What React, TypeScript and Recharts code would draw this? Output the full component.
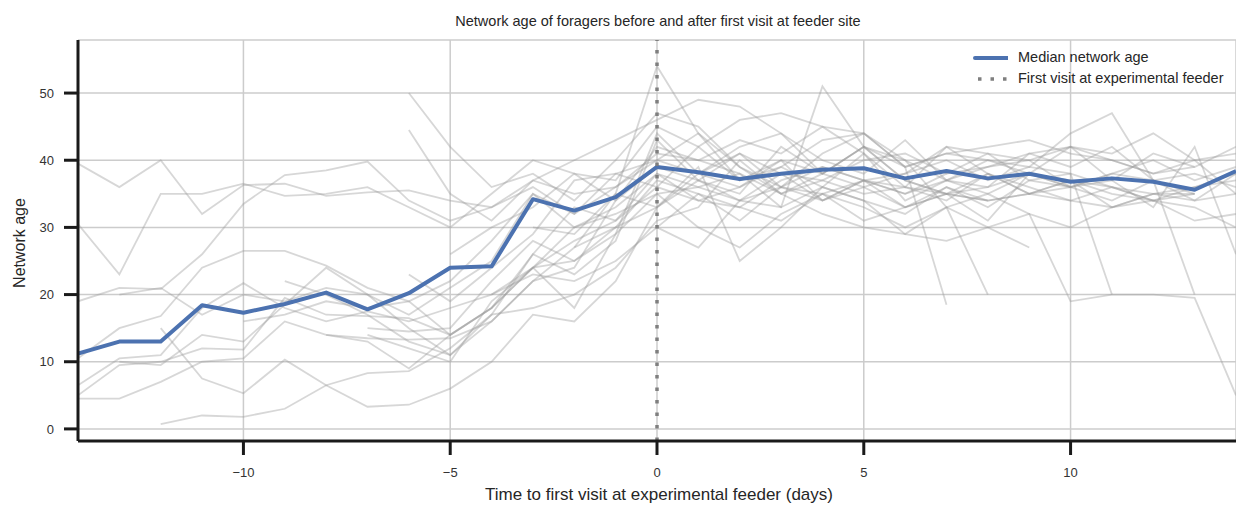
import { LineChart, Line, XAxis, YAxis, CartesianGrid, ReferenceLine } from "recharts";

const days = [-14, -13, -12, -11, -10, -9, -8, -7, -6, -5, -4, -3, -2, -1, 0, 1, 2, 3, 4, 5, 6, 7, 8, 9, 10, 11, 12, 13, 14];

const medianAge = [11.2, 13, 13, 18.4, 17.3, 18.6, 20.3, 17.8, 20.2, 24, 24.2, 34.2, 32.5, 34.5, 39, 38.2, 37.2, 38, 38.6, 38.8, 37.3, 38.4, 37.3, 38, 36.8, 37.3, 36.8, 35.6, 38.4];

// one entry per forager: first day seen + its network age per day
const foragerTracks = [
  { from: -14, ages: [39.5, 36, 40, 32, 36.3, 36.5, 34.7, 35.2, 35.5, 34, 33, 37, 35, 36, 41, 40, 38, 35, 38, 42, 40, 37, 39, 41, 42, 40, 38, 39] },
  { from: -14, ages: [30.5, 23, 35, 35, 36.5, 34.7, 35, 36, 33, 30, 35, 40, 38, 37, 45, 42, 37, 39, 43, 44, 39, 41, 40, 38, 37, 35, 34, 33, 30] },
  { from: -14, ages: [19, 21, 20.8, 26, 33.5, 37.8, 38.5, 39.8, 34, 31, 33, 36, 32, 38, 40, 38, 41, 36, 34, 37, 38, 42, 41, 40, 36, 37, 41, 39, 42] },
  { from: -14, ages: [10.5, 15, 16.8, 24, 26.5, 26.5, 24.3, 21, 19, 14, 18, 24, 28, 31, 36, 34, 33, 31, 35, 37, 33, 35, 38, 36, 34, 33, 35, 36, 37] },
  { from: -14, ages: [4.5, 4.5, 7, 10, 10.5, 16, 14, 13.5, 13.3, 13.5, 16, 22, 27, 30, 33, 37, 34, 36, 35, 31, 33, 36, 34, 35, 36, 38, 37, 34, 38] },
  { from: -14, ages: [5, 9.5, 10, 12, 11.8, 19.5, 17, 16.8, 16.5, 14, 18, 24, 25, 29, 35, 36, 38, 33, 36, 41, 34, 37, 35, 38, 42, 41, 44, 40, 35] },
  { from: -14, ages: [6.5, 10.5, 11, 18, 21.7, 18, 16, 17.5, 16, 18, 20, 23, 22, 25, 30, 35, 33, 37, 39, 37, 35, 37, 40, 39, 44, 47, 37, 35] },
  { from: -12, ages: [0.7, 2, 1.8, 3, 6.5, 8.3, 8.6, 12, 17, 18, 20, 24, 31, 33, 40, 35, 32, 30, 29, 28, 30, 27] },
  { from: -12, ages: [15, 7.5, 5.3, 10.3, 6.5, 3.3, 3.6, 6, 10, 17, 16, 22, 33, 38, 36, 40, 38, 42, 37, 35, 36, 38, 36] },
  { from: -13, ages: [10, 9.5, 14, 13, 18.5, 24, 20, 15, 11, 17, 26, 23, 28, 43, 37, 41, 38, 34, 36, 33, 35, 34] },
  { from: -7, ages: [15, 14.5, 15, 22, 28, 25, 30, 37, 35, 31, 36, 39, 37, 36, 34, 38, 35, 37, 36, 34, 35] },
  { from: -6, ages: [50, 42, 36, 38, 34, 40, 47, 45, 39, 36, 41, 44, 40, 33, 20] },
  { from: -6, ages: [44.5, 35, 31, 37, 40, 43, 46, 49, 48, 44, 38, 42, 39, 18.5] },
  { from: -7, ages: [14, 12, 10, 19, 24, 30, 32, 35, 30, 27, 32, 35, 33, 30, 33, 35, 32, 19, 20, 20, 19.5, 5] },
  { from: -8, ages: [14, 13, 9, 14, 18, 26, 33, 31, 38, 34, 36, 39, 36, 34, 32, 36, 33, 37, 38, 20] },
  { from: -9, ages: [22, 20, 17, 13, 11, 16, 22, 24, 34, 42, 40, 43, 41, 45, 44, 39, 41, 42, 43, 41, 40, 38, 40, 41] },
  { from: -10, ages: [16, 17, 19, 18, 19, 22, 28, 35, 32, 36, 40, 44, 39, 35, 37, 40, 41, 38, 39, 40, 42, 37, 33, 42, 26] },
  { from: -5, ages: [26, 30, 33, 38, 34, 39, 37, 35, 42, 38, 36, 38, 40, 37, 39, 38, 36, 34, 36, 38] },
  { from: -4, ages: [20, 24, 18, 29, 44, 38, 42, 44, 40, 38, 43, 37, 36, 41, 39, 42, 37, 20] },
  { from: -3, ages: [30, 29, 35, 54, 44, 37, 40, 34, 37, 35, 38, 41, 37, 36, 38, 40, 37, 39] },
  { from: -6, ages: [23, 19, 24, 29, 37, 38, 36, 42, 46, 47, 45, 41, 36, 42, 38, 35, 37, 33, 35, 35] },
  { from: -13, ages: [20, 21, 17, 20, 19, 21, 20, 17, 21, 25, 35, 30, 33, 38, 36, 34, 38, 37, 35, 36, 35, 34, 35, 34, 36, 35, 34, 35] },
  { from: 0, ages: [30, 27, 34, 33, 51, 42, 37, 35, 31, 38, 36, 34, 37, 38, 36] },
  { from: -2, ages: [27, 35, 33, 39, 25, 30, 36, 34, 29, 33, 30, 32, 30, 33, 34, 31, 32] },
];

const xTicks = [-10, -5, 0, 5, 10];
const yTicks = [0, 10, 20, 30, 40, 50];

const rows = days.map((day, i) => {
  const row: Record<string, number> = { day, median: medianAge[i] };
  foragerTracks.forEach((t, k) => {
    const j = day - t.from;
    if (j >= 0 && j < t.ages.length) row[`f${k}`] = t.ages[j];
  });
  return row;
});

const FONT = "'Liberation Sans', Arial, sans-serif";
const INK = "#262626";

export default function App() {
  return (
    <div style={{ position: "absolute", left: 0, top: 0, width: 1236, height: 506, background: "#fff", fontFamily: FONT }}>
      <div style={{ position: "absolute", top: 12, left: 0, width: 1316, textAlign: "center", fontSize: 14.5, lineHeight: "18px", color: INK }}>
        Network age of foragers before and after first visit at feeder site
      </div>
      <LineChart width={1236} height={506} data={rows} margin={{ top: 40, right: 0, bottom: 0, left: 0 }}>
        <CartesianGrid stroke="#cccccc" strokeWidth={1.5} />
        <XAxis
          dataKey="day"
          type="number"
          domain={[-14, 14]}
          ticks={xTicks}
          allowDataOverflow
          height={65}
          tickSize={14}
          tickMargin={13}
          tick={{ fill: "#333", fontSize: 13, fontFamily: FONT }}
          tickLine={{ stroke: "#1a1a1a", strokeWidth: 3 }}
          axisLine={{ stroke: "#1a1a1a", strokeWidth: 3 }}
          tickFormatter={(v: number) => (v < 0 ? `\u2212${-v}` : `${v}`)}
          label={{
            content: () => (
              <text x={659} y={494} textAnchor="middle" dominantBaseline="central" fill={INK} fontSize={17} fontFamily={FONT}>
                Time to first visit at experimental feeder (days)
              </text>
            ),
          }}
        />
        <YAxis
          type="number"
          domain={[-1.8, 57.9]}
          ticks={yTicks}
          allowDataOverflow
          width={78}
          tickSize={14}
          tickMargin={10}
          tick={{ fill: "#333", fontSize: 13, fontFamily: FONT }}
          tickLine={{ stroke: "#1a1a1a", strokeWidth: 3 }}
          axisLine={{ stroke: "#1a1a1a", strokeWidth: 3 }}
          label={{
            content: () => (
              <text x={19} y={243} transform="rotate(-90 19 243)" textAnchor="middle" dominantBaseline="central" fill={INK} fontSize={16} fontFamily={FONT}>
                Network age
              </text>
            ),
          }}
        />
        {foragerTracks.map((_, k) => (
          <Line
            key={k}
            dataKey={`f${k}`}
            stroke="#9a9a9a"
            strokeOpacity={0.4}
            strokeWidth={1.8}
            dot={false}
            activeDot={false}
            isAnimationActive={false}
          />
        ))}
        <Line dataKey="median" stroke="#4c72b0" strokeWidth={4} strokeLinejoin="round" dot={false} activeDot={false} isAnimationActive={false} />
        <ReferenceLine x={0} stroke="#7f7f7f" strokeWidth={3.5} strokeDasharray="3.5 9" />
      </LineChart>
      <div style={{ position: "absolute", left: 972, top: 47, fontSize: 14.5, color: INK, lineHeight: "21px" }}>
        <div style={{ display: "flex", alignItems: "center" }}>
          <svg width={36} height={10} style={{ marginRight: 10 }}>
            <line x1={3} y1={5} x2={36} y2={5} stroke="#4c72b0" strokeWidth={4} strokeLinecap="round" />
          </svg>
          Median network age
        </div>
        <div style={{ display: "flex", alignItems: "center" }}>
          <svg width={36} height={10} style={{ marginRight: 10 }}>
            <line x1={6} y1={5} x2={36} y2={5} stroke="#7f7f7f" strokeWidth={3.5} strokeDasharray="3.5 9" />
          </svg>
          First visit at experimental feeder
        </div>
      </div>
    </div>
  );
}
